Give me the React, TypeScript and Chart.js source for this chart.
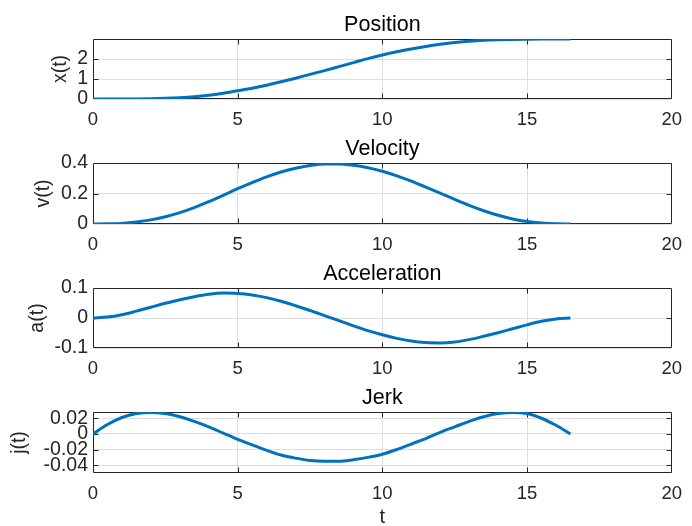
import React, { useEffect, useRef } from "react";
import { Chart, registerables } from "chart.js";

Chart.register(...registerables);

// ---- data ----
const T = [
  0, 0.5, 1, 1.5, 2, 2.5, 3, 3.5, 4, 4.5, 5, 5.5, 6, 6.5, 7, 7.5, 8, 8.5, 9, 9.5,
  10, 10.5, 11, 11.5, 12, 12.5, 13, 13.5, 14, 14.5, 15, 15.5, 16, 16.5,
];
const POSITION = [
  0, 0.0003, 0.002, 0.006, 0.016, 0.036, 0.068, 0.118, 0.19, 0.29, 0.41, 0.54, 0.69, 0.86, 1.04, 1.23, 1.42, 1.62, 1.82, 2.02,
  2.2, 2.36, 2.5, 2.63, 2.74, 2.83, 2.89, 2.935, 2.963, 2.98, 2.99, 2.995, 2.997, 2.997,
];
const VELOCITY = [
  0, 0.001, 0.004, 0.013, 0.027, 0.048, 0.075, 0.108, 0.146, 0.188, 0.232, 0.272, 0.309, 0.341, 0.366, 0.384, 0.394, 0.394, 0.385, 0.369,
  0.346, 0.316, 0.281, 0.242, 0.202, 0.161, 0.122, 0.087, 0.057, 0.033, 0.016, 0.006, 0.001, 0,
];
const ACCELERATION = [
  0, 0.003, 0.011, 0.023, 0.036, 0.049, 0.061, 0.071, 0.079, 0.083, 0.082, 0.077, 0.068, 0.056, 0.041, 0.025, 0.008, -0.009, -0.026, -0.042,
  -0.056, -0.068, -0.077, -0.082, -0.083, -0.08, -0.072, -0.061, -0.049, -0.036, -0.023, -0.011, -0.003, 0,
];
const JERK = [
  0, 0.012, 0.021, 0.026, 0.0275, 0.026, 0.022, 0.016, 0.009, 0.001, -0.007, -0.014, -0.021, -0.027, -0.031, -0.034, -0.035, -0.035, -0.033, -0.03,
  -0.026, -0.02, -0.013, -0.006, 0.002, 0.009, 0.016, 0.022, 0.026, 0.0275, 0.026, 0.02, 0.011, 0,
];

const X_TICKS = [0, 5, 10, 15, 20];
const POS_TICKS = [0, 1, 2];
const VEL_TICKS = [0, 0.2, 0.4];
const ACC_TICKS = [-0.1, 0, 0.1];
const JERK_TICKS = [-0.04, -0.02, 0, 0.02];

const TITLES = ["Position", "Velocity", "Acceleration", "Jerk"];
const Y_LABELS = ["x(t)", "v(t)", "a(t)", "j(t)"];
const X_LABEL = "t";

// ---- layout / style ----
const FONT = "'Liberation Sans', Arial, Helvetica, sans-serif";
const W = 692;
const PAD_TOP = 38;
const LINE_COLOR = "#0072BD";
const AXIS_COLOR = "#262626";
const GRID_COLOR = "#dedede";

const PANELS = [
  { title: TITLES[0], ylabel: Y_LABELS[0], values: POSITION, yTicks: POS_TICKS, min: 0, max: 3, areaTop: 39, areaBottom: 99, xAxisH: 40, yTitleCenter: 61 },
  { title: TITLES[1], ylabel: Y_LABELS[1], values: VELOCITY, yTicks: VEL_TICKS, min: 0, max: 0.4, areaTop: 163, areaBottom: 224, xAxisH: 40, yTitleCenter: 44 },
  { title: TITLES[2], ylabel: Y_LABELS[2], values: ACCELERATION, yTicks: ACC_TICKS, min: -0.1, max: 0.1, areaTop: 288, areaBottom: 348, xAxisH: 40, yTitleCenter: 38 },
  { title: TITLES[3], ylabel: Y_LABELS[3], values: JERK, yTicks: JERK_TICKS, min: -0.05, max: 0.028, areaTop: 412, areaBottom: 473, xAxisH: 80, yTitleCenter: 20, xTitle: X_LABEL },
];

const fmt = (v: number) => String(Number(v.toFixed(4)));

const decorPlugin = {
  id: "panelDecor",
  beforeDatasetsDraw(chart: any) {
    const { ctx, chartArea: a, scales } = chart;
    const L = Math.round(a.left) + 0.5;
    const R = Math.round(a.right) - 0.5;
    const Tp = Math.round(a.top) + 0.5;
    const B = Math.round(a.bottom) - 0.5;
    const tl = 5;
    ctx.save();
    ctx.strokeStyle = AXIS_COLOR;
    ctx.lineWidth = 1;
    ctx.beginPath();
    ctx.rect(L, Tp, R - L, B - Tp);
    for (const t of scales.x.ticks) {
      const px = Math.round(scales.x.getPixelForValue(t.value)) + 0.5;
      if (px <= L + 1 || px >= R - 1) continue;
      ctx.moveTo(px, B);
      ctx.lineTo(px, B - tl);
      ctx.moveTo(px, Tp);
      ctx.lineTo(px, Tp + tl);
    }
    for (const t of scales.y.ticks) {
      const py = Math.round(scales.y.getPixelForValue(t.value)) + 0.5;
      if (py <= Tp + 1 || py >= B - 1) continue;
      ctx.moveTo(L, py);
      ctx.lineTo(L + tl, py);
      ctx.moveTo(R, py);
      ctx.lineTo(R - tl, py);
    }
    ctx.stroke();
    ctx.restore();
  },
  afterDraw(chart: any, _args: any, opts: any) {
    const { ctx, chartArea: a } = chart;
    ctx.save();
    ctx.fillStyle = "#000";
    ctx.font = `21.5px ${FONT}`;
    ctx.textAlign = "center";
    ctx.textBaseline = "alphabetic";
    ctx.fillText(opts.title, (a.left + a.right) / 2, a.top - 8);
    ctx.restore();
  },
};

function Panel({ p }: { p: (typeof PANELS)[number] }) {
  const ref = useRef<HTMLCanvasElement>(null);
  const areaH = p.areaBottom - p.areaTop;
  const height = PAD_TOP + areaH + p.xAxisH;
  const top = p.areaTop - PAD_TOP;

  useEffect(() => {
    if (!ref.current) return;
    const chart = new Chart(ref.current, {
      type: "line",
      data: {
        datasets: [
          {
            data: T.map((t, i) => ({ x: t, y: p.values[i] })),
            borderColor: LINE_COLOR,
            borderWidth: 3,
            pointRadius: 0,
            cubicInterpolationMode: "monotone",
            fill: false,
          },
        ],
      },
      options: {
        animation: false,
        responsive: false,
        maintainAspectRatio: false,
        devicePixelRatio: 1,
        layout: { padding: { left: 0, right: 13, top: PAD_TOP, bottom: 0 } },
        plugins: {
          legend: { display: false },
          tooltip: { enabled: false },
          title: { display: false },
          panelDecor: { title: p.title },
        } as any,
        scales: {
          x: {
            type: "linear",
            min: 0,
            max: 20,
            afterBuildTicks: (s: any) => {
              s.ticks = X_TICKS.map((v) => ({ value: v }));
            },
            afterFit: (s: any) => {
              s.height = p.xAxisH;
            },
            ticks: {
              font: { family: FONT, size: 18.5 },
              color: AXIS_COLOR,
              padding: 10,
              maxRotation: 0,
              autoSkip: false,
              callback: (v: any) => fmt(Number(v)),
            },
            grid: { color: GRID_COLOR, lineWidth: 1, drawTicks: false },
            border: { display: false },
            title: p.xTitle
              ? {
                  display: true,
                  text: p.xTitle,
                  font: { family: FONT, size: 20 },
                  color: AXIS_COLOR,
                  padding: { top: 0, bottom: 24 },
                }
              : { display: false },
          },
          y: {
            type: "linear",
            min: p.min,
            max: p.max,
            afterBuildTicks: (s: any) => {
              s.ticks = p.yTicks.map((v) => ({ value: v }));
            },
            afterFit: (s: any) => {
              s.width = 93;
            },
            ticks: {
              font: { family: FONT, size: 19.5 },
              color: AXIS_COLOR,
              padding: 5,
              autoSkip: false,
              callback: (v: any) => fmt(Number(v)),
            },
            grid: { color: GRID_COLOR, lineWidth: 1, drawTicks: false },
            border: { display: false },
            title: {
              display: true,
              text: p.ylabel,
              font: { family: FONT, size: 19.5 },
              color: AXIS_COLOR,
              padding: { top: p.yTitleCenter - 11.7, bottom: 0 },
            },
          },
        },
      } as any,
      plugins: [decorPlugin],
    });
    return () => chart.destroy();
  }, []);

  return (
    <canvas
      ref={ref}
      width={W}
      height={height}
      style={{ position: "absolute", left: 0, top, width: W, height }}
    />
  );
}

export default function App() {
  return (
    <div
      style={{
        position: "fixed",
        left: 0,
        top: 0,
        width: W,
        height: 526,
        overflow: "hidden",
        background: "#fff",
      }}
    >
      {PANELS.map((p) => (
        <Panel key={p.title} p={p} />
      ))}
    </div>
  );
}
